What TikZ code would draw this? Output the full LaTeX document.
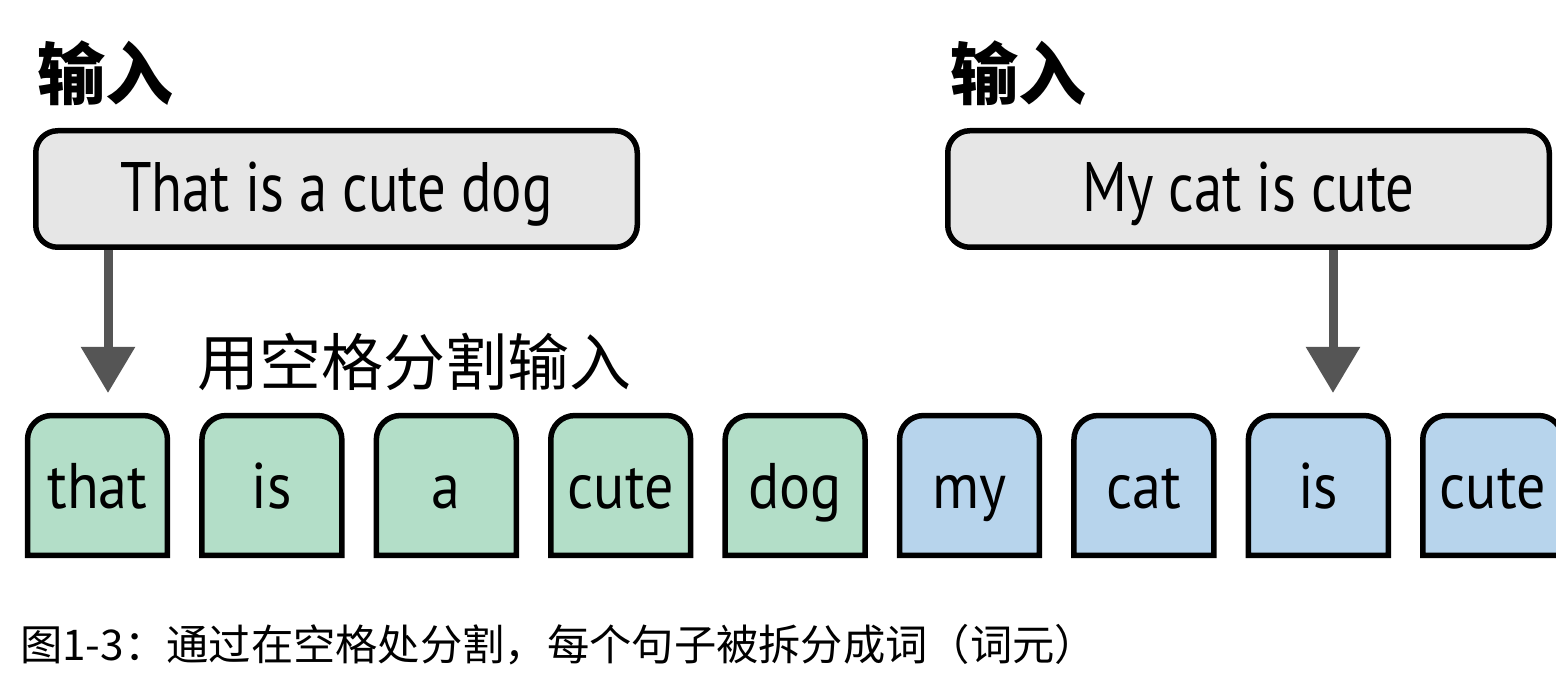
\documentclass[tikz,border=0pt]{standalone}
\usepackage{fontspec}
\usetikzlibrary{arrows.meta,backgrounds,calc}
\newfontfamily\boxfont[FakeStretch=0.81]{PT Sans}
\newfontfamily\tokfont[FakeStretch=0.9]{PT Sans}
\newfontfamily\cjk{Noto Sans CJK SC}
\definecolor{boxgray}{HTML}{E6E6E6}
\definecolor{tokgreen}{HTML}{B3DEC8}
\definecolor{tokblue}{HTML}{B7D4EC}
\definecolor{arrowgray}{HTML}{555555}
\newcommand\tokshape[2]{%
  \draw[line width=5.5pt, fill=#2] (#1.south west) -- (#1.west) [rounded corners=24pt] -- (#1.north west) -- (#1.north east) -- (#1.east) [sharp corners] -- (#1.south east) -- cycle;}
\begin{document}
\begin{tikzpicture}[x=1pt,y=-1pt,
  inbox/.style={draw=black, line width=5.5pt, fill=boxgray, rounded corners=22pt,
    minimum width=601.5pt, minimum height=116.5pt, inner sep=0pt,
    font=\boxfont\fontsize{70}{80}\selectfont, text height=46pt, text depth=0pt},
  tok/.style={minimum width=139.5pt, minimum height=139.5pt, inner sep=0pt,
    font=\tokfont\fontsize{64.5}{70}\selectfont, text height=45pt, text depth=0pt},
  arr/.style={draw=arrowgray, line width=9pt, -{Triangle[length=46pt,width=52pt]}},
  headlab/.style={inner sep=0pt, anchor=base west, font=\cjk\bfseries\fontsize{68}{70}\selectfont},
  steplab/.style={inner sep=0pt, anchor=base west, font=\cjk\fontsize{62}{64}\selectfont},
  caplab/.style={inner sep=0pt, anchor=base west, font=\cjk\fontsize{42.3}{44}\selectfont}
]
\useasboundingbox (0,0) rectangle (1556,684);
\clip (0,0) rectangle (1556,684);

% labels
\node[headlab] (h1) at (37,100) {输入};
\node[headlab] (h2) at (950,100) {输入};
\node[steplab] (split) at (197,386) {用空格分割输入};
\node[caplab] (cap) at (20,660) {图1-3：通过在空格处分割，每个句子被拆分成词（词元）};

% input boxes
\node[inbox] (in1) at (336.5,189) {That is a cute dog};
\node[inbox] (in2) at (1248.5,189) {My cat is cute};

% tokens
\node[tok] (t1) at (97.5,485.5) {that};
\node[tok] (t2) at (271.9,485.5) {is};
\node[tok] (t3) at (446.3,485.5) {a};
\node[tok] (t4) at (620.7,485.5) {cute};
\node[tok] (t5) at (795.1,485.5) {dog};
\node[tok] (t6) at (969.5,485.5) {my};
\node[tok] (t7) at (1143.9,485.5) {cat};
\node[tok] (t8) at (1318.3,485.5) {is};
\node[tok] (t9) at (1492.7,485.5) {cute};

\begin{scope}[on background layer]
  \fill[white] (0,0) rectangle (1556,684);
  \tokshape{t1}{tokgreen}
  \tokshape{t2}{tokgreen}
  \tokshape{t3}{tokgreen}
  \tokshape{t4}{tokgreen}
  \tokshape{t5}{tokgreen}
  \tokshape{t6}{tokblue}
  \tokshape{t7}{tokblue}
  \tokshape{t8}{tokblue}
  \tokshape{t9}{tokblue}
\end{scope}

% arrows
\coordinate (tip1) at (108,393);
\coordinate (tip2) at (1333,393);
\draw[arr] (tip1 |- in1.south) -- (tip1);
\draw[arr] (tip2 |- in2.south) -- (tip2);
\end{tikzpicture}
\end{document}
